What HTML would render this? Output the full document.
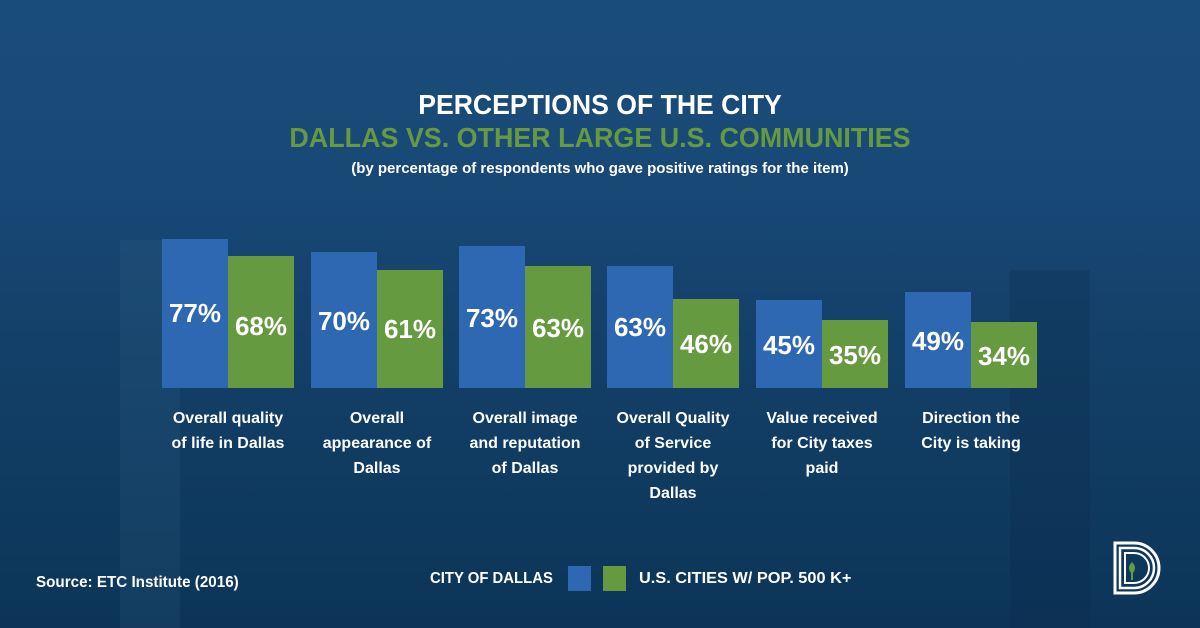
<!DOCTYPE html>
<html><head><style>
body{margin:0;}
#c{position:relative;width:1200px;height:628px;overflow:hidden;font-family:"Liberation Sans",sans-serif;font-weight:bold;color:#fff;
background:linear-gradient(180deg,#1a4c7a 0%,#184876 30%,#134068 55%,#0f3a60 80%,#0c3458 100%);}
.t{position:absolute;left:0;width:1200px;text-align:center;white-space:nowrap;}
.b{position:absolute;bottom:240px;width:66px;}
.bl{background:#2f68b2;}.gr{background:#669a41;}
.v{position:absolute;width:70px;text-align:center;font-size:26px;}
.l{position:absolute;top:406px;width:140px;text-align:center;font-size:16px;line-height:25px;}
.bg{position:absolute;}
</style></head><body><div id="c">
<div class="bg" style="left:120px;top:240px;width:60px;height:388px;background:rgba(70,120,160,0.12)"></div>
<div class="bg" style="left:1010px;top:270px;width:80px;height:358px;background:rgba(10,40,70,0.25)"></div>
<div class="t" style="top:89px;font-size:28px;transform:scaleX(0.95)">PERCEPTIONS OF THE CITY</div>
<div class="t" style="top:122px;font-size:28px;color:#669a41;transform:scaleX(0.96)">DALLAS VS. OTHER LARGE U.S. COMMUNITIES</div>
<div class="t" style="top:160px;font-size:15px;transform:scaleX(1.0)">(by percentage of respondents who gave positive ratings for the item)</div>

<div class="b bl" style="left:162px;top:239px"></div><div class="b gr" style="left:228px;top:256px"></div>
<div class="b bl" style="left:311px;top:252px"></div><div class="b gr" style="left:377px;top:270px"></div>
<div class="b bl" style="left:459px;top:246px"></div><div class="b gr" style="left:525px;top:266px"></div>
<div class="b bl" style="left:607px;top:266px"></div><div class="b gr" style="left:673px;top:299px"></div>
<div class="b bl" style="left:756px;top:300px"></div><div class="b gr" style="left:822px;top:320px"></div>
<div class="b bl" style="left:905px;top:292px"></div><div class="b gr" style="left:971px;top:322px"></div>

<div class="v" style="left:160px;top:298px">77%</div><div class="v" style="left:226px;top:311px">68%</div>
<div class="v" style="left:309px;top:306px">70%</div><div class="v" style="left:375px;top:314px">61%</div>
<div class="v" style="left:457px;top:303px">73%</div><div class="v" style="left:523px;top:313px">63%</div>
<div class="v" style="left:605px;top:312px">63%</div><div class="v" style="left:671px;top:329px">46%</div>
<div class="v" style="left:754px;top:330px">45%</div><div class="v" style="left:820px;top:340px">35%</div>
<div class="v" style="left:903px;top:326px">49%</div><div class="v" style="left:969px;top:341px">34%</div>

<div class="l" style="left:158px">Overall quality<br>of life in Dallas</div>
<div class="l" style="left:307px">Overall<br>appearance of<br>Dallas</div>
<div class="l" style="left:455px">Overall image<br>and reputation<br>of Dallas</div>
<div class="l" style="left:603px">Overall Quality<br>of Service<br>provided by<br>Dallas</div>
<div class="l" style="left:752px">Value received<br>for City taxes<br>paid</div>
<div class="l" style="left:901px">Direction the<br>City is taking</div>

<div style="position:absolute;left:36px;top:574px;font-size:16px;transform:scaleX(0.95);transform-origin:left">Source: ETC Institute (2016)</div>
<div style="position:absolute;left:430px;top:570px;font-size:16px;transform:scaleX(0.93);transform-origin:left">CITY OF DALLAS</div>
<div style="position:absolute;left:568px;top:566px;width:23px;height:25px;background:#2f68b2"></div>
<div style="position:absolute;left:603px;top:566px;width:23px;height:25px;background:#669a41"></div>
<div style="position:absolute;left:639px;top:570px;font-size:16px;transform:scaleX(1.02);transform-origin:left">U.S. CITIES W/ POP. 500 K+</div>
<svg style="position:absolute;left:1112px;top:540px" width="54" height="56" viewBox="0 0 54 56">
<path d="M3 3 H22 A24 24 0 0 1 22 53 H3 Z" fill="none" stroke="#fff" stroke-width="3"/>
<path d="M8 8 H22 A19 19 0 0 1 22 48 H8 Z" fill="none" stroke="#fff" stroke-width="2.5"/>
<path d="M13 13 H22 A14 14 0 0 1 22 43 H13 Z" fill="none" stroke="#fff" stroke-width="2"/>
<path d="M20 22 q6 6 0 12 q-6-6 0-12z" fill="#669a41"/><rect x="19" y="30" width="2" height="10" fill="#669a41"/>
</svg>
</div></body></html>
